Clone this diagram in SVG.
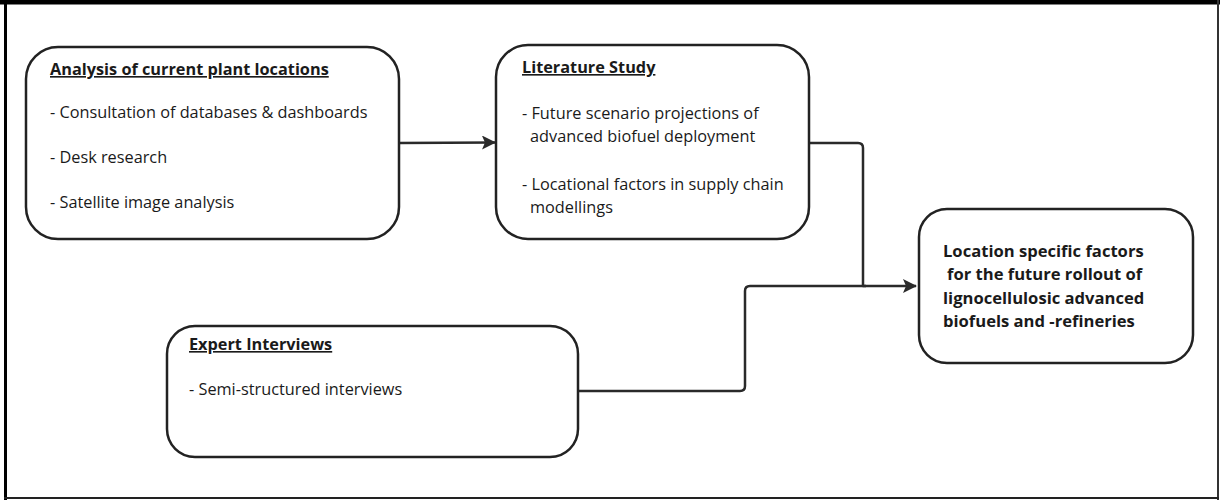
<svg xmlns="http://www.w3.org/2000/svg" width="1220" height="500" viewBox="0 0 1220 500">
  <style>
    .box { fill: #ffffff; stroke: #222222; stroke-width: 2.5; }
    .wire { fill: none; stroke: #2a2a2a; stroke-width: 2.5; stroke-linejoin: round; }
    .t { font-family: "Open Sans", "Noto Sans", "DejaVu Sans", sans-serif; font-size: 16.3px; fill: #1a1a1a; }
    .h { font-weight: bold; text-decoration: underline; }
    .b { font-weight: bold; font-size: 16.6px; }
  </style>
  <defs>
    <marker id="arrow" viewBox="0 0 14 14" refX="13" refY="7" markerWidth="14" markerHeight="14" markerUnits="userSpaceOnUse" orient="auto">
      <path d="M0,0 L14,7 L0,14 L3,7 Z" fill="#2a2a2a"/>
    </marker>
  </defs>

  <!-- outer frame -->
  <rect x="0" y="0" width="1220" height="500" fill="#ffffff"/>
  <g id="frame" fill="#000000">
    <rect x="0" y="0" width="1220" height="4.5"/>
    <rect x="4" y="0" width="3" height="500"/>
    <rect x="1217" y="0" width="2" height="500" fill="#333333"/>
    <rect x="4" y="497" width="1215" height="2" fill="#222222"/>
  </g>

  <!-- connectors -->
  <g id="connectors">
    <path class="wire" d="M399,143 L495,142.5" marker-end="url(#arrow)"/>
    <path class="wire" d="M809,143 L858,143 Q863,143 863,148 L863,286 L916,286" marker-end="url(#arrow)"/>
    <path class="wire" d="M578,391 L740,391 Q745,391 745,386 L745,291 Q745,286 750,286 L866,286"/>
  </g>

  <g id="node-analysis">
    <rect class="box" x="26" y="47" width="373" height="192" rx="32" ry="32"/>
    <text class="t h" x="50" y="75">Analysis of current plant locations</text>
    <text class="t" x="50" y="118">- Consultation of databases &amp; dashboards</text>
    <text class="t" x="50" y="163">- Desk research</text>
    <text class="t" x="50" y="208">- Satellite image analysis</text>
  </g>

  <g id="node-literature">
    <rect class="box" x="496" y="45" width="313" height="194" rx="32" ry="32"/>
    <text class="t h" x="522" y="73">Literature Study</text>
    <text class="t" x="522" y="119">- Future scenario projections of</text>
    <text class="t" x="530" y="142">advanced biofuel deployment</text>
    <text class="t" x="522" y="190">- Locational factors in supply chain</text>
    <text class="t" x="530" y="213">modellings</text>
  </g>

  <g id="node-experts">
    <rect class="box" x="167" y="326" width="411" height="131" rx="28" ry="28"/>
    <text class="t h" x="189" y="350">Expert Interviews</text>
    <text class="t" x="189" y="395">- Semi-structured interviews</text>
  </g>

  <g id="node-result">
    <rect class="box" x="919" y="209" width="274" height="154" rx="28" ry="28"/>
    <text class="t b" x="943" y="257">Location specific factors</text>
    <text class="t b" x="947" y="280">for the future rollout of</text>
    <text class="t b" x="943" y="304">lignocellulosic advanced</text>
    <text class="t b" x="943" y="327">biofuels and -refineries</text>
  </g>
</svg>
